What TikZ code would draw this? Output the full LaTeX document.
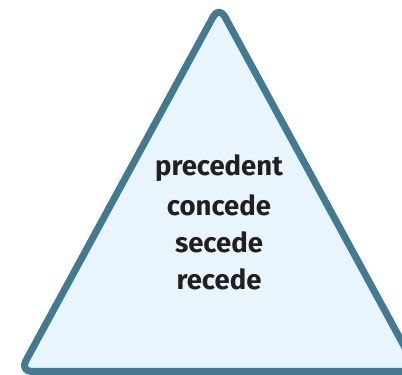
\documentclass[tikz,border=0pt]{standalone}
\usepackage{fontspec}
\setmainfont{Fira Sans}
\definecolor{edge}{HTML}{437A92}
\definecolor{fillc}{HTML}{E8F5FC}
\definecolor{ink}{HTML}{231F20}
\tikzset{
  tri/.style={draw=edge, fill=fillc, line width=7pt, rounded corners=12pt, line join=round},
  word/.style={text=ink, font=\fontsize{27.5}{30}\selectfont\bfseries, inner sep=0pt, anchor=center}
}
\begin{document}
\begin{tikzpicture}[x=1pt,y=1pt]
\useasboundingbox (0,0) rectangle (402,375);
\clip (0,0) rectangle (402,375);
\draw[tri] (219,369) -- (20,3.5) -- (418,3.5) -- cycle;
\node[word] (w1) at (219,207) {precedent};
\node[word] (w2) at (219,170) {concede};
\node[word] (w3) at (219,133) {secede};
\node[word] (w4) at (219,96) {recede};
\end{tikzpicture}
\end{document}
